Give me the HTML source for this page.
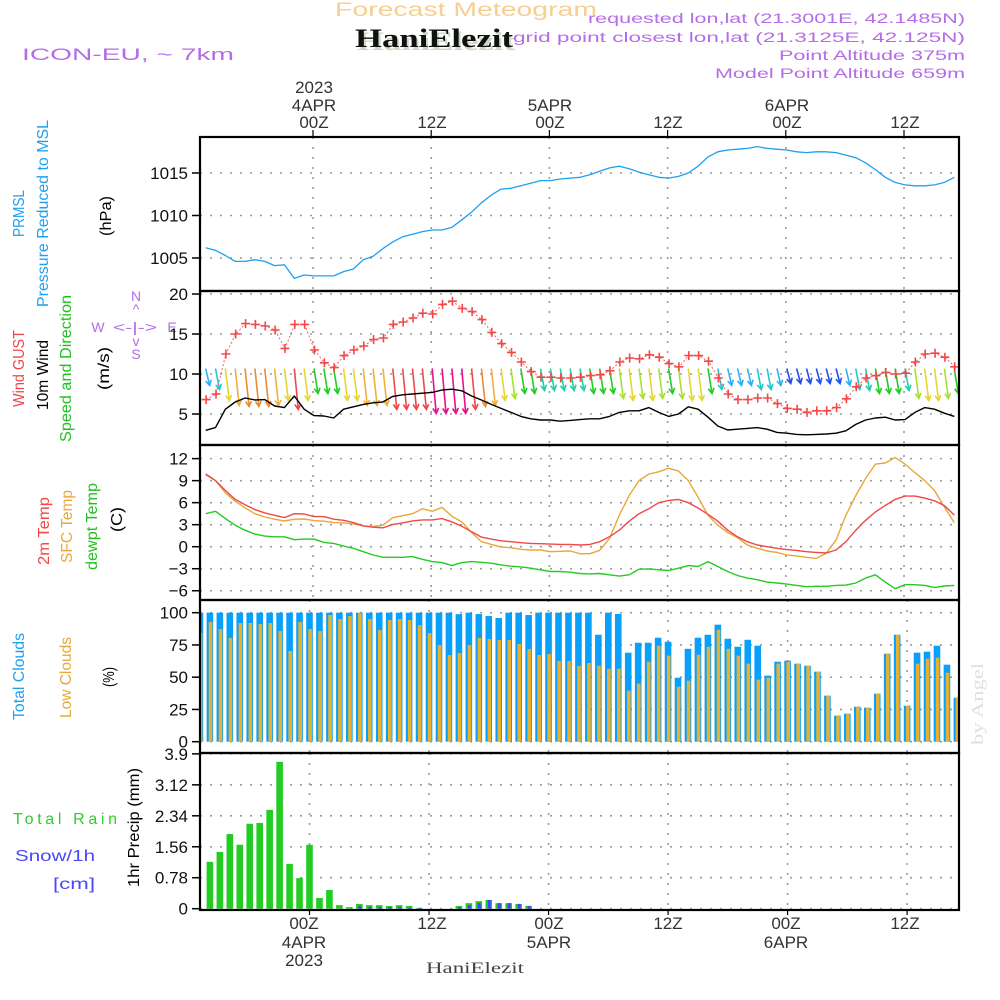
<!DOCTYPE html>
<html><head><meta charset="utf-8"><style>
html,body{margin:0;padding:0;background:#fff;}
svg{display:block;font-family:"Liberation Sans",sans-serif;}
</style></head><body>
<svg id="chart" width="1000" height="1000" viewBox="0 0 1000 1000" xmlns="http://www.w3.org/2000/svg">
<defs>
<clipPath id="cp1"><rect x="200" y="137" width="759" height="154"/></clipPath>
<clipPath id="cp2"><rect x="200" y="291" width="759" height="154"/></clipPath>
<clipPath id="cp3"><rect x="200" y="445" width="759" height="155"/></clipPath>
<clipPath id="cp4"><rect x="200" y="600" width="759" height="153"/></clipPath>
<clipPath id="cp5"><rect x="200" y="753" width="759" height="157"/></clipPath>
</defs>
<!-- header -->
<text x="335" y="16" font-size="19" fill="#f6cf92" textLength="262" lengthAdjust="spacingAndGlyphs">Forecast Meteogram</text>
<text x="357" y="50" font-family="Liberation Serif,serif" font-weight="bold" font-size="26" fill="#c9d9c2" textLength="158" lengthAdjust="spacingAndGlyphs">HaniElezit</text>
<text x="355" y="47" font-family="Liberation Serif,serif" font-weight="bold" font-size="26" fill="#111" textLength="158" lengthAdjust="spacingAndGlyphs">HaniElezit</text>
<text x="22" y="60" font-size="17" fill="#b46ce8" textLength="212" lengthAdjust="spacingAndGlyphs">ICON-EU, ~ 7km</text>
<g fill="#b46ce8" font-size="14" text-anchor="end">
<text x="965" y="23" textLength="377" lengthAdjust="spacingAndGlyphs">requested lon,lat (21.3001E, 42.1485N)</text>
<text x="965" y="42" textLength="452" lengthAdjust="spacingAndGlyphs">grid point closest lon,lat (21.3125E, 42.125N)</text>
<text x="965" y="60" textLength="186" lengthAdjust="spacingAndGlyphs">Point Altitude 375m</text>
<text x="965" y="78" textLength="250" lengthAdjust="spacingAndGlyphs">Model Point Altitude 659m</text>
</g>
<!-- top time labels -->
<g font-size="17" fill="#333" text-anchor="middle">
<text x="314" y="93">2023</text><text x="314" y="111">4APR</text><text x="314" y="128">00Z</text>
<text x="432" y="128">12Z</text>
<text x="550" y="111">5APR</text><text x="550" y="128">00Z</text>
<text x="668" y="128">12Z</text>
<text x="787" y="111">6APR</text><text x="787" y="128">00Z</text>
<text x="905" y="128">12Z</text>
</g>
<!-- bottom time labels -->
<g font-size="17" fill="#333" text-anchor="middle">
<text x="304" y="929">00Z</text><text x="304" y="948">4APR</text><text x="304" y="966">2023</text>
<text x="432" y="929">12Z</text>
<text x="549" y="929">00Z</text><text x="549" y="948">5APR</text>
<text x="668" y="929">12Z</text>
<text x="786" y="929">00Z</text><text x="786" y="948">6APR</text>
<text x="905" y="929">12Z</text>
</g>
<text x="475" y="973" text-anchor="middle" font-family="Liberation Serif,serif" font-size="16" fill="#444" textLength="98" lengthAdjust="spacingAndGlyphs">HaniElezit</text>
<text transform="translate(983,745) rotate(-90)" font-family="Liberation Serif,serif" font-size="17" fill="#dde0dd" textLength="82" lengthAdjust="spacingAndGlyphs">by Angel</text>

<!-- left labels -->
<g font-size="16">
<text transform="translate(24,237) rotate(-90)" fill="#1ea0f0" textLength="47" lengthAdjust="spacingAndGlyphs">PRMSL</text>
<text transform="translate(48,307) rotate(-90)" fill="#1ea0f0" textLength="187" lengthAdjust="spacingAndGlyphs">Pressure Reduced to MSL</text>
<text transform="translate(111,236) rotate(-90)" fill="#000" textLength="40" lengthAdjust="spacingAndGlyphs">(hPa)</text>
<text transform="translate(24,407) rotate(-90)" fill="#f04848" textLength="77" lengthAdjust="spacingAndGlyphs">Wind GUST</text>
<text transform="translate(48,410) rotate(-90)" fill="#000" textLength="70" lengthAdjust="spacingAndGlyphs">10m Wind</text>
<text transform="translate(71,442) rotate(-90)" fill="#20c020" textLength="147" lengthAdjust="spacingAndGlyphs">Speed and Direction</text>
<text transform="translate(109,390) rotate(-90)" fill="#000" textLength="43" lengthAdjust="spacingAndGlyphs">(m/s)</text>
<text transform="translate(49,565) rotate(-90)" fill="#f04848" textLength="68" lengthAdjust="spacingAndGlyphs">2m Temp</text>
<text transform="translate(72,563) rotate(-90)" fill="#e8a838" textLength="73" lengthAdjust="spacingAndGlyphs">SFC Temp</text>
<text transform="translate(97,570) rotate(-90)" fill="#20c020" textLength="87" lengthAdjust="spacingAndGlyphs">dewpt Temp</text>
<text transform="translate(122,532) rotate(-90)" fill="#000" textLength="25" lengthAdjust="spacingAndGlyphs">(C)</text>
<text transform="translate(24,720) rotate(-90)" fill="#1ea0f0" textLength="87" lengthAdjust="spacingAndGlyphs">Total Clouds</text>
<text transform="translate(71,718) rotate(-90)" fill="#e8a838" textLength="81" lengthAdjust="spacingAndGlyphs">Low Clouds</text>
<text transform="translate(114,687) rotate(-90)" fill="#000" textLength="20" lengthAdjust="spacingAndGlyphs">(%)</text>
<text transform="translate(139,887) rotate(-90)" fill="#000" textLength="119" lengthAdjust="spacingAndGlyphs">1hr Precip (mm)</text>
<text x="13" y="824" fill="#30cc30" textLength="104" lengthAdjust="spacing">Total  Rain</text>
<text x="15" y="861" fill="#4848f8" textLength="80" lengthAdjust="spacingAndGlyphs">Snow/1h</text>
<text x="53" y="889" fill="#4848f8" textLength="42" lengthAdjust="spacingAndGlyphs">[cm]</text>
</g>
<!-- compass -->
<g fill="#b46ce8" font-size="14" text-anchor="middle">
<text x="136" y="301">N</text><text x="136" y="314">^</text>
<text x="98" y="332">W</text><text x="135" y="332" textLength="44" lengthAdjust="spacingAndGlyphs">&lt;-|-&gt;</text><text x="172" y="332">E</text>
<text x="136" y="346">v</text><text x="136" y="359">S</text>
</g>
<g id="grid"></g>
<g id="marks"></g>
<g id="frames"></g>
</svg>
<script>
// ---- data ----
const hourStart = -11;
const pressureHPa = [1006.2,1005.9,1005.3,1004.6,1004.6,1004.8,1004.6,1004.1,1004.2,1002.6,
1003.0,1002.9,1002.9,1002.9,1003.4,1003.7,1004.8,1005.2,1006.1,1006.9,
1007.5,1007.8,1008.1,1008.3,1008.3,1008.6,1009.5,1010.4,1011.5,1012.4,
1013.1,1013.2,1013.5,1013.8,1014.1,1014.1,1014.3,1014.4,1014.5,1014.8,
1015.2,1015.6,1015.8,1015.5,1015.1,1014.8,1014.5,1014.4,1014.6,1015.0,
1015.8,1016.9,1017.5,1017.7,1017.8,1017.9,1018.1,1017.9,1017.8,1017.7,
1017.5,1017.4,1017.5,1017.5,1017.4,1017.1,1016.8,1016.2,1015.4,1014.5,
1013.9,1013.6,1013.5,1013.5,1013.6,1013.9,1014.5];
const windGust = [6.8,7.5,12.5,15.0,16.3,16.2,16.0,15.5,13.2,16.2,
16.2,13.0,11.4,10.8,12.3,13.0,13.5,14.3,14.5,16.2,
16.5,17.0,17.6,17.5,18.7,19.1,18.2,17.8,16.8,15.2,
13.8,12.7,11.5,10.3,9.6,9.6,9.5,9.5,9.6,9.8,
9.9,10.4,11.5,12.0,11.9,12.4,12.1,11.3,10.9,12.3,
12.3,11.6,9.5,7.5,6.8,6.8,7.0,7.0,6.3,5.7,
5.6,5.2,5.4,5.4,5.8,6.9,8.4,9.5,9.8,10.2,
10.0,10.1,11.5,12.5,12.6,12.1,10.9];
const windSpeed = [2.96,3.3,5.6,6.5,7.0,6.75,6.8,6.0,5.8,7.25,
5.6,4.8,4.75,4.5,5.6,5.9,6.2,6.4,6.5,7.2,
7.4,7.5,7.6,7.7,8.0,8.1,7.9,7.25,6.75,6.2,
5.7,5.2,4.7,4.4,4.25,4.25,4.1,4.2,4.3,4.4,
4.4,4.7,5.2,5.4,5.4,5.8,5.2,4.7,5.0,5.9,
5.6,4.6,3.5,3.0,3.1,3.2,3.3,3.1,2.7,2.6,
2.45,2.4,2.45,2.5,2.6,2.9,3.7,4.25,4.5,4.6,
4.25,4.3,5.2,5.8,5.6,5.1,4.7];
const windClass = ("BCYODDDOYRYGGGYYOOORRRRMMMMRDOYLGGTTTTTG"+"GGLYLYLGLYYGCBBBCCBKKKKKKBCTGGGTLYYLG").split("");
const temp2m = [9.9,9.0,7.66,6.44,5.72,5.05,4.6,4.28,3.96,4.5,
4.46,4.1,4.1,3.74,3.6,3.29,2.84,2.66,2.57,3.02,
3.24,3.51,3.65,3.65,3.83,3.38,2.79,2.03,1.31,1.04,
0.81,0.68,0.54,0.45,0.41,0.36,0.32,0.32,0.23,
0.32,0.68,1.35,2.25,3.47,4.5,5.18,6.0,6.3,6.44,
6.0,5.27,4.41,3.47,2.25,1.35,0.68,0.23,0,-0.22,
-0.4,-0.5,-0.68,-0.77,-0.86,-0.45,0.68,2.25,3.6,4.73,
5.63,6.44,6.9,6.9,6.62,6.26,5.6,4.3];
const tempSfc = [9.8,9.0,7.34,6.2,5.3,4.5,4.05,3.74,3.5,3.74,
3.78,3.56,3.47,3.29,3.24,3.11,2.84,2.75,2.93,3.96,
4.23,4.5,5.18,4.82,5.36,4.14,3.38,1.94,0.68,0.32,
-0.05,-0.14,-0.36,-0.45,-0.45,-0.68,-0.63,-0.59,-0.95,
-0.95,-0.5,1.13,4.28,6.98,9.0,9.9,10.2,10.7,10.3,
9.0,6.75,4.28,2.93,1.94,1.22,0.23,-0.22,-0.59,-0.77,
-1.13,-1.26,-1.44,-1.6,-0.9,0.9,4.28,6.98,9.3,11.26,
11.4,12.16,11.26,10.1,9.0,7.66,5.4,3.29];
const tempDew = [4.5,4.82,3.83,2.93,2.25,1.71,1.44,1.35,1.35,0.95,
1.04,1.04,0.59,0.45,0.09,-0.22,-0.68,-1.13,-1.44,-1.44,
-1.44,-1.35,-1.71,-2.03,-2.16,-2.57,-2.16,-2.03,-2.12,-2.25,
-2.48,-2.66,-2.75,-2.93,-3.15,-3.38,-3.38,-3.47,-3.65,
-3.7,-3.65,-3.83,-4.0,-3.83,-3.06,-3.02,-3.15,-3.24,-2.93,
-2.57,-2.7,-2.03,-2.7,-3.38,-3.92,-4.28,-4.5,-4.82,-4.95,
-5.09,-5.27,-5.45,-5.4,-5.4,-5.27,-5.23,-4.95,-4.28,-3.83,
-4.82,-5.72,-5.18,-5.18,-5.27,-5.54,-5.36,-5.27];
const cloudTotal = [100,100,100,100,100,100,100,100,100,100,
100,100,100,100,100,100,100,100,100,100,
100,100,100,100,100,100,98.9,100,98.9,97.4,
95.9,100,100,98.2,100,100,100,100,100,100,
82.9,100,99,69,76.7,76.7,80.6,77.5,49.6,72,
80.6,82.9,90.7,79.8,73.6,79,74.4,51.2,62,62.8,
60.5,58.9,54.3,35.7,20.2,21.7,27.1,26.4,37.2,68.2,
82.9,27.9,69,69.8,74.4,59.7,34.1];
const cloudLow = [84.2,92.8,87.3,80.4,92,92,91.2,92,85.8,70.3,
92.8,87.3,85.8,98.2,95.1,97.4,99.7,95.1,86.6,94.3,
95.1,94.3,90.4,84.2,74.9,67.2,68.7,74.9,80.4,79.6,
78.8,78.8,75.7,71.8,67.2,68,62.5,62.5,58.7,61,
58.9,56.6,56.6,39.5,45,62,74.4,66.7,42.6,47.3,
67.4,73.6,86.8,72,66.7,60.5,48.1,49.6,60.5,62,
60.5,58.9,54.3,35.7,20.2,21.7,27.1,26.4,37.2,68.2,
82.9,27.9,60.5,64.3,65.1,53.5,34.1];
const precipMm = [0,1.18,1.43,1.88,1.61,2.14,2.16,2.49,3.70,1.13,
0.77,1.61,0.27,0.47,0.09,0.04,0.12,0.09,0.09,0.07,
0.09,0.07,0.02,0,0,0,0.07,0.14,0.19,0.22,
0.14,0.14,0.12,0.07,0,0,0,0,0,0,
0,0,0,0,0,0,0,0,0,0,
0,0,0,0,0,0,0,0,0,0,
0,0,0,0,0,0,0,0,0,0,
0,0,0,0,0,0,0];
const snowCm = [0,0,0,0,0,0,0,0,0,0,
0,0,0,0,0,0,0.06,0.04,0.04,0.04,
0.04,0.02,0.02,0,0,0,0.04,0.09,0.14,0.22,
0.14,0.14,0.12,0.07,0,0,0,0,0,0,
0,0,0,0,0,0,0,0,0,0,
0,0,0,0,0,0,0,0,0,0,
0,0,0,0,0,0,0,0,0,0,
0,0,0,0,0,0,0];
const pressureTicks = [1005,1010,1015];
const windTicks = [5,10,15,20];
const tempTicks = [12,9,6,3,0,-3,-6];
const cloudTicks = [100,75,50,25,0];
const precipTicks = [3.9,3.12,2.34,1.56,0.78,0];
const timeTickHours = [0,12,24,36,48,60];

// ---- scales ----
const X = h => 313 + 9.85*h;        // upper panels
const XB = h => 309.5 + 9.96*h;     // bar panels
const yP = p => 258 - (p-1005)*8.5;
const yW = v => 414 - (v-5)*8;
const yT = t => 546.7 - t*7.34;
const yC = c => 741.7 - c*1.29;
const yR = p => 908.7 - p*39.7;

const NS = "http://www.w3.org/2000/svg";
function mk(tag, attrs, parent){ const e=document.createElementNS(NS,tag); for(const k in attrs) e.setAttribute(k,attrs[k]); parent.appendChild(e); return e; }
const grid = document.getElementById('grid');
const marks = document.getElementById('marks');
const frames = document.getElementById('frames');

const panels = [
 {top:137,bot:291,ticks:pressureTicks,y:yP,fmt:v=>String(v),xs:X,name:'pressure'},
 {top:291,bot:445,ticks:windTicks,y:yW,fmt:v=>String(v),xs:X,name:'wind'},
 {top:445,bot:600,ticks:tempTicks,y:yT,fmt:v=>(v<0?'\u2212'+(-v):String(v)),xs:X,name:'temp'},
 {top:600,bot:753,ticks:cloudTicks,y:yC,fmt:v=>String(v),xs:XB,name:'cloud'},
 {top:753,bot:910,ticks:precipTicks,y:yR,fmt:v=>String(v),xs:XB,name:'precip'}
];
panels.forEach(p=>{
  p.ticks.forEach(v=>{
    const yy=p.y(v);
    const g=mk('line',{x1:200,x2:959,y1:yy,y2:yy,stroke:'#9a9a9a','stroke-width':1.6,'stroke-dasharray':'2,8'},grid);
    
    
    const t=mk('line',{x1:192,x2:200,y1:yy,y2:yy,stroke:'#000','stroke-width':1.5},frames);
    
    
    const lb=mk('text',{x:188,y:yy+6,'text-anchor':'end','font-size':17,fill:'#111'},frames);
    lb.textContent=p.fmt(v);
    
    
  });
  timeTickHours.forEach(h=>{
    const xx=p.xs(h);
    const g=mk('line',{x1:xx,x2:xx,y1:p.top,y2:p.bot,stroke:'#9a9a9a','stroke-width':1.6,'stroke-dasharray':'2,8'},grid);
    
    
  });
  const r=mk('rect',{x:200,y:p.top,width:759,height:p.bot-p.top,fill:'none',stroke:'#000','stroke-width':2.2},frames);
  
  
});
timeTickHours.forEach(h=>{
  const t=mk('line',{x1:X(h),x2:X(h),y1:130,y2:137,stroke:'#000','stroke-width':1.2},frames);
  
  
  const b=mk('line',{x1:XB(h),x2:XB(h),y1:910,y2:915,stroke:'#000','stroke-width':1.2},frames);
  
  
});

function line(vals, xs, ys, color, w, clip, name, dash){
  const d = vals.map((v,i)=>(i?'L':'M')+xs(hourStart+i).toFixed(1)+','+ys(v).toFixed(1)).join('');
  const a={d:d,fill:'none',stroke:color,'stroke-width':w,'clip-path':'url(#'+clip+')','stroke-linejoin':'round'};
  if(dash) a['stroke-dasharray']=dash;
  const e=mk('path',a,marks);
  
  
  return e;
}
// pressure
line(pressureHPa, h=>X(h)+1, yP, '#1ea0f0', 1.3, 'cp1', 'pressure-line');

// wind arrows
const arrowColor = {B:'#30b0f2',C:'#20c8d2',T:'#20d0a8',G:'#22cc22',L:'#a8e030',Y:'#e6d630',O:'#f0b040',D:'#f08a30',R:'#f04848',M:'#e8108a',K:'#2050f0'};
const arrowLen = {B:17,C:21,T:22,G:25,L:30,Y:32,O:37,D:38,R:41,M:45,K:15};
windClass.forEach((c,i)=>{
  const x0=X(hourStart+i)+1, y0=368.5, L=arrowLen[c], x1=x0+4, y1=y0+L;
  const g=mk('g',{stroke:arrowColor[c],'stroke-width':1.6,fill:'none','clip-path':'url(#cp2)'},marks);
  
  
  const ang=Math.atan2(y1-y0,x1-x0);
  const hx1=x1-6*Math.cos(ang-0.5), hy1=y1-6*Math.sin(ang-0.5);
  const hx2=x1-6*Math.cos(ang+0.5), hy2=y1-6*Math.sin(ang+0.5);
  mk('path',{d:`M${x0},${y0}L${x1},${y1}M${hx1.toFixed(1)},${hy1.toFixed(1)}L${x1},${y1}L${hx2.toFixed(1)},${hy2.toFixed(1)}`},g);
});
// wind speed
line(windSpeed, h=>X(h)+1, yW, '#000', 1.4, 'cp2', 'wind-speed-line');
// gust
line(windGust, h=>X(h)+1.5, yW, '#f46060', 1, 'cp2', 'wind-gust-line', '2,2');
windGust.forEach((v,i)=>{
  const x=X(hourStart+i)+1.5, y=yW(v);
  const e=mk('path',{d:`M${x-4.5},${y}H${x+4.5}M${x},${y-4.5}V${y+4.5}`,stroke:'#f44848','stroke-width':1.6,'clip-path':'url(#cp2)'},marks);
  
  
});
// temps
line(tempDew, h=>X(h)+1, yT, '#22cc22', 1.4, 'cp3', 'dewpoint-line');
line(tempSfc, h=>X(h)+1, yT, '#e8a838', 1.4, 'cp3', 'sfc-temp-line');
line(temp2m, h=>X(h)+1, yT, '#f04848', 1.4, 'cp3', 'temp-2m-line');

// clouds
cloudTotal.forEach((v,i)=>{
  const xc=XB(hourStart+i);
  const b=mk('rect',{x:xc-3.3,y:yC(v),width:6.6,height:yC(0)-yC(v),fill:'#08a0fa','clip-path':'url(#cp4)'},marks);
  
  
});
cloudLow.forEach((v,i)=>{
  const xc=XB(hourStart+i);
  const b=mk('rect',{x:xc-1.2,y:yC(v),width:3.6,height:yC(0)-yC(v),fill:'#e8b030','clip-path':'url(#cp4)'},marks);
  
  
});
// precip
precipMm.forEach((v,i)=>{
  if(v<=0) return;
  const xc=XB(hourStart+i);
  const b=mk('rect',{x:xc-3.3,y:yR(v),width:6.6,height:yR(0)-yR(v),fill:'#22cc22','clip-path':'url(#cp5)'},marks);
  
  
});
snowCm.forEach((v,i)=>{
  if(v<=0) return;
  const xc=XB(hourStart+i);
  const b=mk('rect',{x:xc-1,y:yR(v),width:3,height:yR(0)-yR(v),fill:'#4444ff','clip-path':'url(#cp5)'},marks);
  
  
});
</script>
</body></html>
